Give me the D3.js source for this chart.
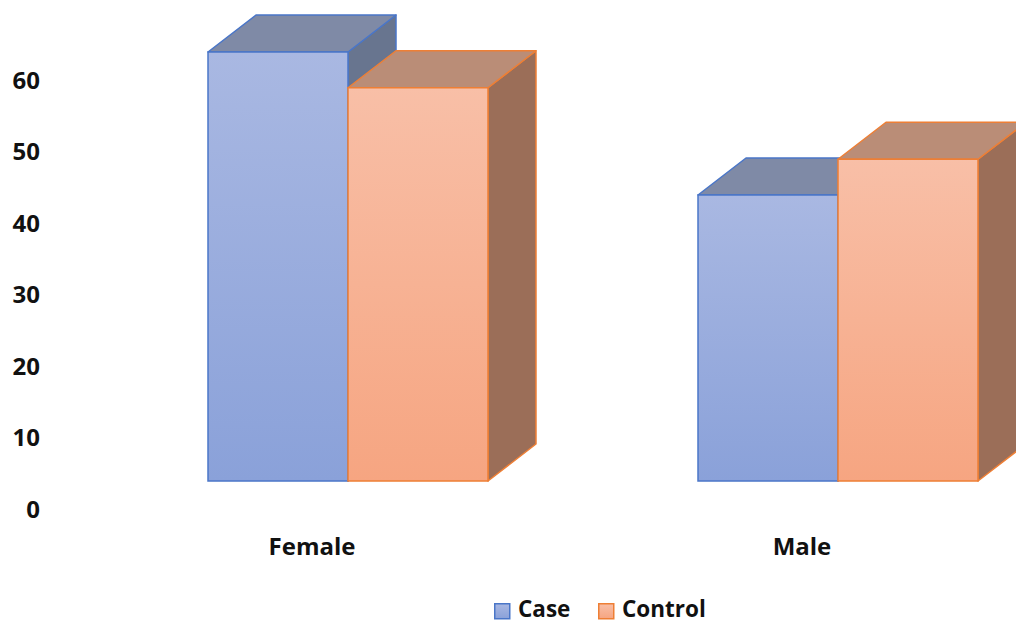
<!DOCTYPE html>
<html>
<head>
<meta charset="utf-8">
<script src="https://cdn.jsdelivr.net/npm/d3@7/dist/d3.min.js"></script>
<style>
  html, body { margin: 0; padding: 0; background: #fff; }
  svg { display: block; }
  text { font-family: "Open Sans", sans-serif; font-weight: 700; fill: #111; }
</style>
</head>
<body>
<svg id="chart" width="1016" height="623"></svg>
<script>
// Percentage of subjects by sex in each group
const categories = ["Female", "Male"];
const seriesNames = ["Case", "Control"];
const caseValues = [60, 40];
const controlValues = [55, 45];
const yTicks = [0, 10, 20, 30, 40, 50, 60];

const W = 1016, H = 623;
const svg = d3.select("#chart");
const defs = svg.append("defs");

// Oblique projection of bar depth (x shift, y shift for one full depth)
const depth = { dx: 48, dy: -37 };
// Axis labels sit on a plane in front of the bars
const axisPlane = { dx: -36, dy: 28 };

const y = d3.scaleLinear().domain([0, 60]).range([481, 52]);
const x0 = d3.scaleBand().domain(categories).range([103, 1083]).paddingInner(0.4286).paddingOuter(0.2143);
const x1 = d3.scaleBand().domain(seriesNames).range([0, x0.bandwidth()]);

const styles = {
  Case:    { top: "#a9b8e2", bottom: "#8aa1d9", stroke: "#4a76c8", lid: "#7f8aa6", side: "#68758f" },
  Control: { top: "#f8bfa7", bottom: "#f6a581", stroke: "#ee7f35", lid: "#ba8d77", side: "#9b6e58" }
};

seriesNames.forEach(s => {
  const g = defs.append("linearGradient").attr("id", "grad-" + s)
    .attr("x1", 0).attr("y1", 0).attr("x2", 0).attr("y2", 1);
  g.append("stop").attr("offset", "0%").attr("stop-color", styles[s].top);
  g.append("stop").attr("offset", "100%").attr("stop-color", styles[s].bottom);
});

const rows = [];
categories.forEach((c, i) => {
  rows.push({ cat: c, series: "Case", value: caseValues[i] });
  rows.push({ cat: c, series: "Control", value: controlValues[i] });
});

const bars = svg.append("g").attr("class", "bars");

function drawBar(d) {
  const st = styles[d.series];
  const xl = x0(d.cat) + x1(d.series);
  const xr = xl + x1.bandwidth();
  const yt = y(d.value), yb = y(0);
  const g = bars.append("g");
  const { dx, dy } = depth;
  // side face
  g.append("path")
    .attr("d", `M${xr},${yt}L${xr + dx},${yt + dy}L${xr + dx},${yb + dy}L${xr},${yb}Z`)
    .attr("fill", st.side).attr("stroke", st.stroke).attr("stroke-width", 1.5).attr("stroke-linejoin", "round");
  // top face
  g.append("path")
    .attr("d", `M${xl},${yt}L${xl + dx},${yt + dy}L${xr + dx},${yt + dy}L${xr},${yt}Z`)
    .attr("fill", st.lid).attr("stroke", st.stroke).attr("stroke-width", 1.5).attr("stroke-linejoin", "round");
  // front face
  g.append("rect")
    .attr("x", xl).attr("y", yt).attr("width", xr - xl).attr("height", yb - yt)
    .attr("fill", `url(#grad-${d.series})`).attr("stroke", st.stroke).attr("stroke-width", 1.5);
}
rows.forEach(drawBar);

// Value axis labels
const yAxis = svg.append("g").attr("class", "y-axis");
yAxis.selectAll("text").data(yTicks).join("text")
  .attr("x", 40)
  .attr("y", d => y(d) + axisPlane.dy)
  .attr("dy", "0.36em")
  .attr("text-anchor", "end")
  .attr("font-size", 24)
  .text(d => d);

// Category labels
svg.append("g").attr("class", "x-axis").selectAll("text").data(categories).join("text")
  .attr("x", d => x0(d) + x0.bandwidth() / 2 + axisPlane.dx)
  .attr("y", 555)
  .attr("text-anchor", "middle")
  .attr("font-size", 24)
  .text(d => d);

// Legend
const legendItems = [
  { name: "Case", x: 494 },
  { name: "Control", x: 598 }
];
const legend = svg.append("g").attr("class", "legend");
legendItems.forEach(it => {
  const st = styles[it.name];
  legend.append("rect").attr("x", it.x + 0.75).attr("y", 603.75).attr("width", 15).attr("height", 15)
    .attr("fill", `url(#grad-${it.name})`).attr("stroke", st.stroke).attr("stroke-width", 1.5);
  legend.append("text").attr("x", it.x + 24).attr("y", 616.5)
    .attr("font-size", 22.5).text(it.name);
});
</script>
</body>
</html>
